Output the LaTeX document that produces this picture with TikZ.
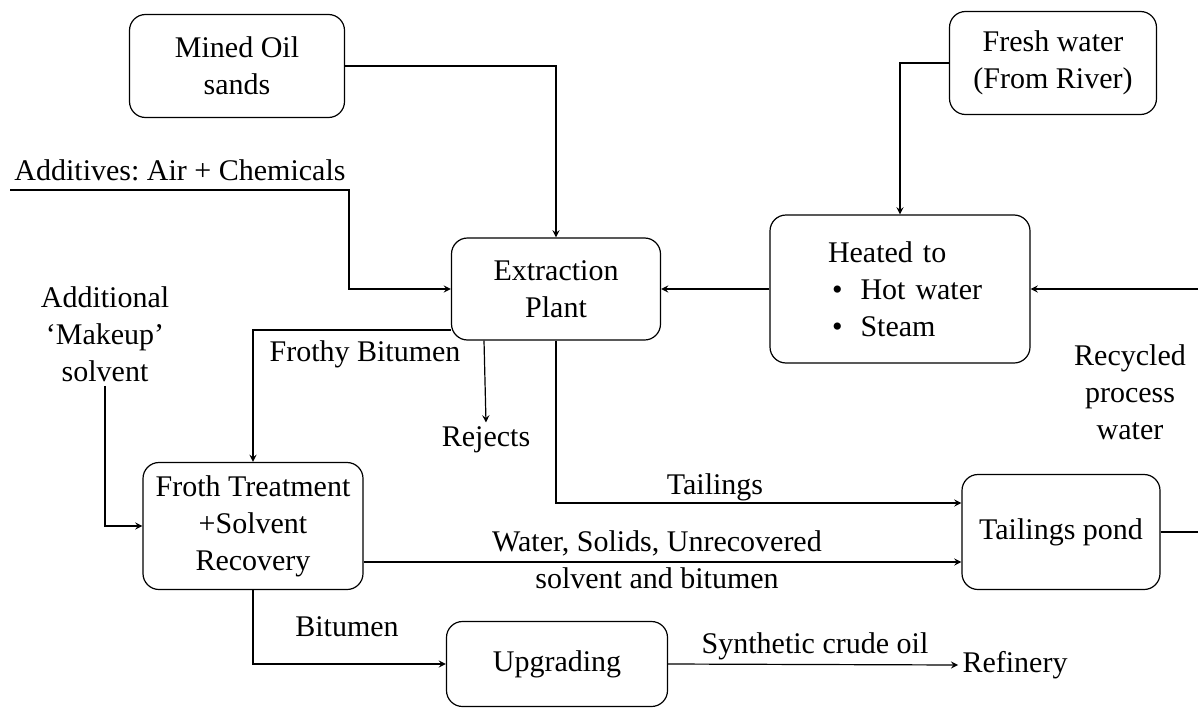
\documentclass[tikz,border=0pt]{standalone}
\usepackage{fontspec}
\setmainfont{Liberation Serif}
\usepackage{tikz}
\usetikzlibrary{shapes,arrows,positioning}
\frenchspacing

\begin{document}
\begin{tikzpicture}[
    x=0.5pt, y=-0.5pt,
    box/.style={rectangle, draw, rounded corners=8pt, line width=0.6pt, align=center, font=\fontsize{15}{18.5}\selectfont},
    lbl/.style={align=center, inner sep=2pt, font=\fontsize{15}{18.5}\selectfont},
    arrow/.style={->, >=stealth, line width=0.6pt}
]
    \useasboundingbox (0,0) rectangle (1198,717);

    % process boxes
    \node[box, minimum width=107.5pt, minimum height=51.5pt] (mined) at (237,66) {Mined Oil\\sands};
    \node[box, minimum width=103.5pt, minimum height=51.5pt] (fresh) at (1053,63) {Fresh water\\(From River)};
    \node[box, minimum width=104.5pt, minimum height=51pt] (plant) at (556,289) {Extraction\\Plant};
    \node[box, text width=84pt, inner xsep=23pt, align=left, minimum height=74pt] (heated) at (900,289) {\hspace*{6pt}Heated to\\\hspace*{8pt}•\hspace{9pt}Hot water\\\hspace*{8pt}•\hspace{9pt}Steam};
    \node[box, minimum width=110pt, minimum height=63.5pt] (froth) at (253,526) {Froth Treatment\\+Solvent\\Recovery};
    \node[box, minimum width=99pt, minimum height=57.5pt] (pond) at (1061,532) {Tailings pond};
    \node[box, minimum width=110.5pt, minimum height=42.5pt] (upgrade) at (557,664) {Upgrading};

    % stream labels
    \node[lbl] (additives) at (180,170) {Additives: Air + Chemicals};
    \coordinate (addstart) at (10,190);
    \node[lbl] (makeup) at (105,334) {Additional\\‘Makeup’\\solvent};
    \node[lbl] (frothy) at (365,354) {Frothy Bitumen};
    \node[lbl] (rejects) at (486,440) {Rejects};
    \node[lbl] (tailings) at (715,487) {Tailings};
    \node[lbl] (water) at (657,560) {Water, Solids, Unrecovered\\solvent and bitumen};
    \node[lbl] (bitumen) at (347,627) {Bitumen};
    \node[lbl] (synthetic) at (815,646) {Synthetic crude oil};
    \node[lbl] (refinery) at (1015,665) {Refinery};
    \node[lbl] (recycled) at (1130,392) {Recycled\\process\\water};

    \draw[arrow] (mined.east) -| (plant.north);
    \draw[arrow] (fresh.west) -| (heated.north);
    \draw[arrow] (addstart) -| ([xshift=-51pt]plant.west) -- (plant.west);
    \draw[arrow] (heated.west) -- (plant.east);
    \draw[arrow] (pond.east) -- ++(28pt,0) |- (heated.east);
    \draw[arrow] (makeup.south) |- (froth.west);
    \draw[arrow] ([yshift=-20.5pt]plant.west) -| (froth.north);
    \draw[arrow] ([xshift=-36pt]plant.south) -- (rejects.north);
    \draw[arrow] (plant.south) |- ([yshift=14.5pt]pond.west);
    \draw[arrow] ([yshift=-18pt]froth.east) -- ([yshift=-18pt]froth.east -| pond.west);
    \draw[arrow] (froth.south) |- (upgrade.west);
    \draw[arrow] (upgrade.east) -- (refinery.west);
\end{tikzpicture}
\end{document}
